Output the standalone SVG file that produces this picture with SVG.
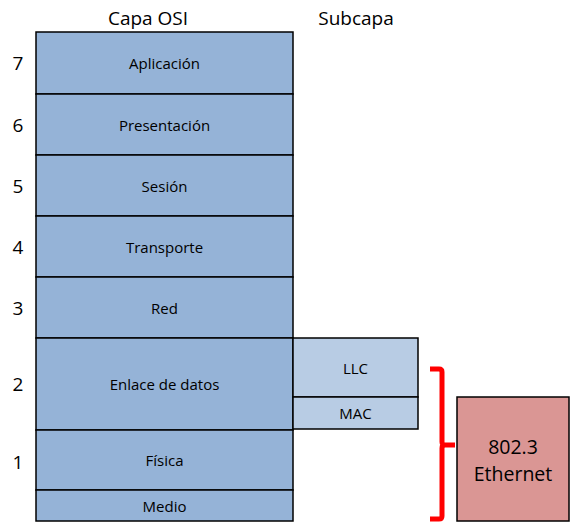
<svg xmlns="http://www.w3.org/2000/svg" width="571" height="523" viewBox="0 0 571 523">
<style>
.lay{fill:#95B3D7;stroke:#000;stroke-width:1.5}
.sub{fill:#B8CCE4;stroke:#000;stroke-width:1.5}
.eth{fill:#DA9694;stroke:#000;stroke-width:1.5}
text{font-family:"Open Sans","Liberation Sans",sans-serif;fill:#000;text-anchor:middle;dominant-baseline:central}
.t{font-size:15px}
.h{font-size:19px}
.n{font-size:19px}
.e{font-size:19.5px}
</style>
<rect width="571" height="523" fill="#fff"/>
<text class="h" x="148" y="18">Capa OSI</text>
<text class="h" x="356" y="18">Subcapa</text>
<g id="l7"><rect class="lay" x="36" y="32" width="257" height="62"/><text class="t" x="164.5" y="63">Aplicación</text><text class="n" x="18" y="63">7</text></g>
<g id="l6"><rect class="lay" x="36" y="94" width="257" height="61"/><text class="t" x="164.5" y="125">Presentación</text><text class="n" x="18" y="125">6</text></g>
<g id="l5"><rect class="lay" x="36" y="155" width="257" height="61"/><text class="t" x="164.5" y="186">Sesión</text><text class="n" x="18" y="186">5</text></g>
<g id="l4"><rect class="lay" x="36" y="216" width="257" height="61"/><text class="t" x="164.5" y="247">Transporte</text><text class="n" x="18" y="247">4</text></g>
<g id="l3"><rect class="lay" x="36" y="277" width="257" height="61"/><text class="t" x="164.5" y="308">Red</text><text class="n" x="18" y="308">3</text></g>
<g id="l2"><rect class="lay" x="36" y="338" width="257" height="92"/><text class="t" x="164.5" y="384">Enlace de datos</text><text class="n" x="18" y="384">2</text></g>
<g id="l1"><rect class="lay" x="36" y="430" width="257" height="60"/><text class="t" x="164.5" y="460">Física</text><text class="n" x="18" y="462">1</text></g>
<g id="medio"><rect class="lay" x="36" y="490" width="257" height="31"/><text class="t" x="164.5" y="506">Medio</text></g>
<g id="llc"><rect class="sub" x="293" y="338" width="125" height="59"/><text class="t" x="355.5" y="368">LLC</text></g>
<g id="mac"><rect class="sub" x="293" y="397" width="125" height="32"/><text class="t" x="355.5" y="413">MAC</text></g>
<g id="ethernet"><rect class="eth" x="457" y="397" width="112" height="124"/><text class="e" x="513" y="446">802.3</text><text class="e" x="513" y="473">Ethernet</text></g>
<g id="connectors">
<path d="M430,369 L439,369 Q442,369 442,372 L442,442 Q442,445 445,445 L455,445 M445,445 Q442,445 442,448 L442,516 Q442,519 439,519 L430,519" fill="none" stroke="#FF0000" stroke-width="5"/>
</g>
</svg>
